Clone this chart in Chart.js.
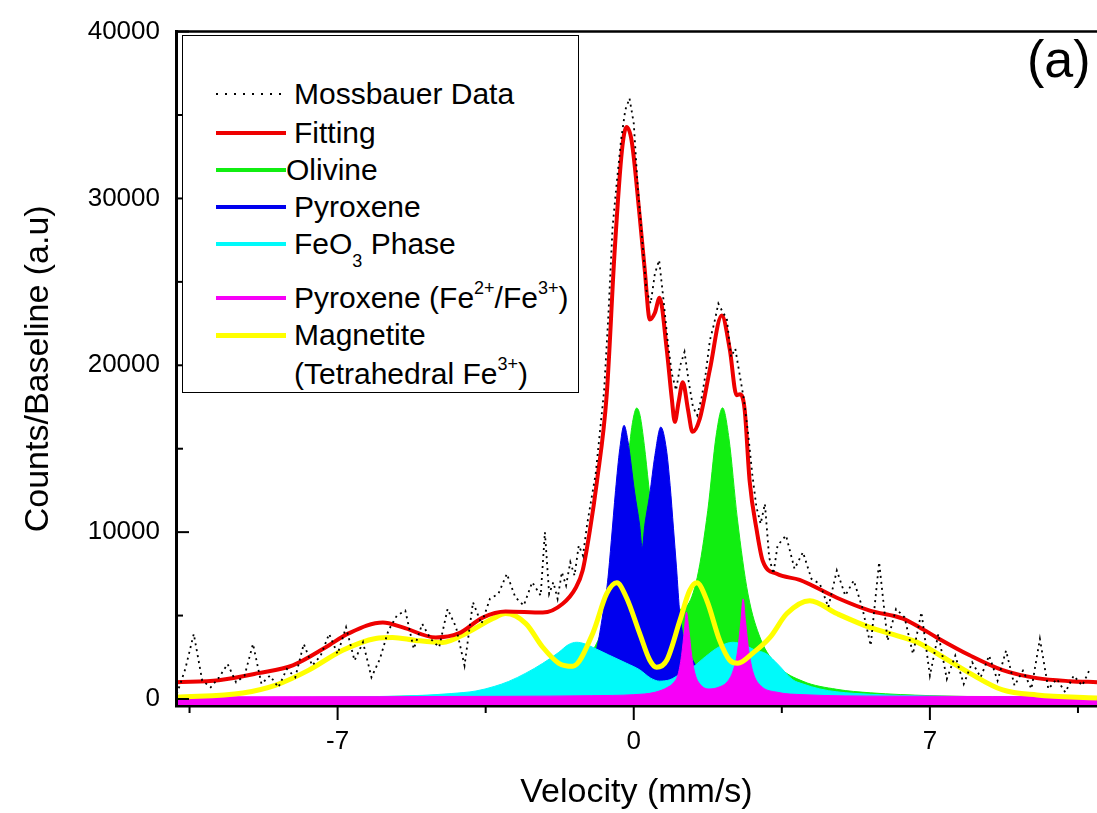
<!DOCTYPE html>
<html>
<head>
<meta charset="utf-8">
<script src="https://cdn.jsdelivr.net/npm/chart.js@4.4.1/dist/chart.umd.min.js"></script>
<style>
body { margin: 0; background: #fff; }
#wrap { position: relative; width: 1097px; height: 813px; font-family: "Liberation Sans", Arial, sans-serif; color: #000; }
#legend { position: absolute; left: 182px; top: 35px; width: 397px; height: 358px; border: 1.5px solid #000; box-sizing: border-box; background: #fff; }
.item { position: absolute; left: 0; width: 100%; height: 0; }
.swatch { position: absolute; left: 33px; width: 70px; height: 4px; top: -2px; }
.swatch.dots { height: 2px; top: -1px; width: 66px; background: repeating-linear-gradient(to right, #000 0 2px, transparent 2px 9px); }
.name { position: absolute; left: 111px; top: -18px; font-size: 30px; line-height: 36px; white-space: nowrap; }
.name sup { font-size: 18px; line-height: 0; vertical-align: 14px; }
.name sub { font-size: 18px; line-height: 0; vertical-align: -13px; }
#tag { position: absolute; left: 1027px; top: 29px; font-size: 52px; line-height: 60px; }
</style>
</head>
<body>
<div id="wrap">
  <canvas id="chart" width="1097" height="813"></canvas>
  <div id="legend"></div>
  <div id="tag">(a)</div>
</div>
<script>
// axis ticks
var xMajorTicks = [-7, 0, 7];
var xMinorTicks = [-10.5, -3.5, 3.5, 10.5];
var yMajorTicks = [0, 10000, 20000, 30000, 40000];
var yMinorTicks = [5000, 15000, 25000, 35000];

// Mossbauer data (velocity mm/s, counts)
var dataX = [-10.8, -10.6, -10.4, -10.2, -10.0, -9.8, -9.6, -9.4, -9.2, -9.0, -8.8, -8.6, -8.4, -8.2, -8.0,
    -7.8, -7.6, -7.4, -7.2, -7.0, -6.8, -6.6, -6.4, -6.2, -6.0, -5.8, -5.6, -5.4, -5.2, -5.0,
    -4.8, -4.6, -4.4, -4.2, -4.0, -3.8, -3.6, -3.4, -3.2, -3.0, -2.8, -2.6, -2.4, -2.2, -2.1,
    -2.0, -1.9, -1.8, -1.7, -1.6, -1.5, -1.4, -1.3, -1.2, -1.1, -1.0, -0.9, -0.8, -0.7, -0.6,
    -0.5, -0.4, -0.3, -0.2, -0.1, 0.0, 0.1, 0.2, 0.3, 0.4, 0.5, 0.6, 0.7, 0.8, 0.9,
    1.0, 1.1, 1.2, 1.3, 1.4, 1.5, 1.6, 1.7, 1.8, 1.9, 2.0, 2.1, 2.2, 2.3, 2.4,
    2.5, 2.6, 2.7, 2.8, 2.9, 3.0, 3.1, 3.2, 3.3, 3.4, 3.6, 3.8, 4.0, 4.2, 4.4,
    4.6, 4.8, 5.0, 5.2, 5.4, 5.6, 5.8, 6.0, 6.2, 6.4, 6.6, 6.8, 7.0, 7.2, 7.4,
    7.6, 7.8, 8.0, 8.2, 8.4, 8.6, 8.8, 9.0, 9.2, 9.4, 9.6, 9.8, 10.0, 10.2, 10.4, 10.6, 10.8];
var dataY = [300, 1800, 3900, 1100, 700, 1300, 2100, 1000, 1400, 3300, 900, 1400, 700, 1800, 1300,
    3300, 2000, 2600, 3900, 2700, 4300, 2300, 3400, 1300, 2400, 4100, 5000, 5300, 3000, 4500,
    3600, 3100, 5400, 4300, 2000, 5800, 4500, 6000, 6300, 7500, 6100, 5600, 7000, 6200, 10000,
    6300, 7000, 6000, 7600, 6800, 8200, 7400, 9200, 8600, 10500, 12000, 13500, 16000, 18500, 23000,
    28300, 31000, 33500, 35300, 36000, 34500, 30500, 27500, 24500, 23700, 25500, 26300, 24000, 21500, 19500,
    18500, 20000, 20800, 19000, 17500, 17000, 18000, 19500, 21500, 22500, 23700, 23200, 22800, 20500, 21000,
    19500, 18000, 16000, 13500, 11500, 10500, 11700, 8500, 7500, 9200, 9800, 7800, 8800, 7200, 6900,
    5500, 7700, 6200, 7100, 5500, 3200, 8200, 3500, 5400, 4900, 2700, 5200, 1400, 3900, 1200,
    2600, 900, 2200, 1300, 2600, 1100, 2900, 800, 1700, 600, 3600, 600, 1200, 400, 1400, 800, 1900];

// Fitting
var fitX = [-10.82, -9.81, -8.87, -8.06, -7.28, -6.74, -5.93, -5.46, -4.68, -4.14, -3.57, -3.03, -2.15, -1.68,
    -1.37, -1.21, -1.04, -0.87, -0.64, -0.45, -0.28, -0.17, -0.05, 0.14, 0.26, 0.38, 0.5, 0.61, 0.78, 0.9,
    0.97, 1.06, 1.16, 1.28, 1.39, 1.56, 1.8, 2.08, 2.27, 2.43, 2.51, 2.62, 2.74, 2.91, 3.05, 3.38, 3.92,
    4.8, 5.58, 6.36, 6.76, 7.16, 7.94, 8.72, 9.53, 10.31, 10.95];
var fitY = [1010, 1130, 1550, 2020, 3100, 3930, 4580, 4290, 3690, 3930, 4880, 5240, 5180, 5710,
    6670, 7680, 10060, 13040, 18210, 26900, 32860, 34280, 33450, 28930, 25710, 22740, 23150, 24050, 20950, 17980,
    16610, 17800, 18990, 17380, 16010, 16790, 19760, 22980, 20950, 18210, 18270, 17380, 13040, 10060, 8270, 7500, 7140,
    6070, 5300, 4820, 4290, 3690, 2620, 1730, 1250, 1070, 1010];

// Olivine
var olivineX = [-10.82, -8, -6, -4, -3, -2, -1.5, -1, -0.6, -0.3, -0.2, -0.1, -0.03, 0.07, 0.15, 0.25, 0.35,
    0.42, 0.5, 0.6, 0.75, 1.0, 1.25, 1.5, 1.75, 1.95, 2.1, 2.25, 2.45, 2.7, 3.0, 3.4, 4.0, 4.8, 5.6, 7, 9, 10.95];
var olivineY = [50, 80, 140, 280, 460, 910, 1460, 2750, 5460, 10320, 12720, 15170, 16560, 17440, 16980, 15200, 12880,
    11300, 9720, 8140, 6530, 5360, 5570, 7280, 11300, 15830, 17450, 15620, 10780, 6290, 3590, 2000, 1060, 580, 370, 200, 110, 70];

// Pyroxene
var pyroxeneX = [-10.82, -6, -4, -3, -2, -1.5, -1.2, -1.0, -0.87, -0.73, -0.62, -0.53, -0.43, -0.33, -0.23, -0.14,
    0.02, 0.14, 0.2, 0.26, 0.38, 0.5, 0.64, 0.77, 0.86, 0.94, 1.01, 1.09, 1.25, 1.4, 1.55, 1.8, 2.2, 3, 4, 6, 10.95];
var pyroxeneY = [60, 100, 180, 300, 600, 1000, 1600, 2300, 3100, 5100, 7000, 9500, 12500, 15000, 16400, 15500,
    12400, 10400, 9050, 10400, 12300, 14600, 16300, 15000, 12800, 10200, 7900, 5100, 3100, 2300, 1700, 1100, 650, 350, 200, 100, 50];

// FeO3 phase
var feo3X = [-10.82, -8, -6, -5, -4.3, -3.73, -3.3, -2.96, -2.55, -2.15, -1.77, -1.55, -1.35, -1.15, -0.97, -0.6,
    -0.17, 0.14, 0.4, 0.61, 0.85, 1.1, 1.39, 1.7, 2.0, 2.34, 2.6, 2.85, 3.14, 3.4, 3.76, 4.0, 4.4, 4.8, 5.6, 7, 9, 10.95];
var feo3Y = [60, 100, 150, 220, 330, 480, 750, 1050, 1550, 2140, 2800, 3250, 3400, 3300, 3100, 2650,
    2140, 1750, 1250, 1070, 1150, 1500, 1900, 2550, 3100, 3400, 3250, 2950, 2700, 2100, 1150, 900, 600, 430, 280, 170, 100, 70];

// Pyroxene (Fe2+/Fe3+)
var pyro23X = [-10.82, -6, -3, -1, 0, 0.5, 0.8, 0.95, 1.05, 1.13, 1.2, 1.245, 1.3, 1.37, 1.45, 1.6, 1.8, 2.0,
    2.2, 2.35, 2.45, 2.53, 2.585, 2.64, 2.72, 2.82, 3.0, 3.4, 4.0, 6.0, 10.95];
var pyro23Y = [130, 140, 160, 200, 260, 400, 700, 1000, 1500, 2600, 4200, 5200, 4200, 2600, 1500, 800, 600, 700,
    1000, 1700, 2800, 4600, 6000, 4700, 2900, 1600, 800, 400, 260, 170, 140];

// Magnetite
var magnetiteX = [-10.82, -9.24, -8.46, -7.68, -6.88, -6.1, -5.7, -5.15, -4.52, -3.97, -3.33, -3.03, -2.55, -2.15,
    -1.77, -1.44, -0.97, -0.64, -0.4, -0.17, 0.14, 0.38, 0.54, 0.78, 1.09, 1.32, 1.49, 1.73, 2.03, 2.27, 2.46,
    2.81, 3.22, 3.62, 4.16, 4.8, 5.58, 6.36, 6.76, 7.16, 7.94, 8.72, 9.53, 10.95];
var magnetiteY = [100, 360, 830, 1730, 2920, 3630, 3690, 3510, 3390, 3930, 4820, 5120, 4520, 3100,
    2140, 1960, 3930, 6310, 6960, 6070, 3930, 2320, 1900, 2320, 4700, 6490, 6960, 5890, 3510, 2320, 2140,
    2740, 3690, 5120, 5890, 5120, 4290, 3690, 3330, 2740, 1550, 540, 240, 60];

var FONT = '"Liberation Sans", Arial, sans-serif';

function toPoints(xs, ys) {
    return xs.map((x, i) => ({ x: x, y: ys[i] }));
}

function areaSet(label, xs, ys, color, order) {
    return {
        label: label,
        data: toPoints(xs, ys),
        borderColor: color,
        backgroundColor: color,
        borderWidth: 1,
        fill: 'start',
        pointRadius: 0,
        cubicInterpolationMode: 'monotone',
        order: order
    };
}

var datasets = [
    {
        label: 'Mossbauer Data', data: toPoints(dataX, dataY),
        borderColor: '#000', borderWidth: 1.8, borderDash: [2, 4],
        pointRadius: 0, tension: 0, fill: false, order: 0
    },
    {
        label: 'Fitting', data: toPoints(fitX, fitY),
        borderColor: '#ee0000', borderWidth: 4, pointRadius: 0,
        cubicInterpolationMode: 'monotone', fill: false, order: 1
    },
    areaSet('Olivine', olivineX, olivineY, '#11ee11', 6),
    areaSet('Pyroxene', pyroxeneX, pyroxeneY, '#0000ee', 5),
    areaSet('FeO3 Phase', feo3X, feo3Y, '#00fafa', 4),
    areaSet('Pyroxene (Fe2+/Fe3+)', pyro23X, pyro23Y, '#f700f7', 3),
    {
        label: 'Magnetite (Tetrahedral Fe3+)', data: toPoints(magnetiteX, magnetiteY),
        borderColor: '#ffff00', borderWidth: 5, pointRadius: 0,
        cubicInterpolationMode: 'monotone', fill: false, order: 2
    }
];

// frame line on top + inner y ticks + outer x ticks
var frameTicks = {
    id: 'frameTicks',
    afterDraw: function (chart) {
        var ctx = chart.ctx, a = chart.chartArea, x = chart.scales.x, y = chart.scales.y;
        ctx.save();
        ctx.strokeStyle = '#000';
        ctx.lineWidth = 2.5;
        ctx.beginPath();
        ctx.moveTo(a.left - 1, a.top);
        ctx.lineTo(a.right, a.top);
        ctx.stroke();
        ctx.lineWidth = 2;
        function tick(x1, y1, x2, y2) {
            ctx.beginPath(); ctx.moveTo(x1, y1); ctx.lineTo(x2, y2); ctx.stroke();
        }
        yMajorTicks.forEach(v => { var p = y.getPixelForValue(v); tick(a.left, p, a.left + 13, p); });
        yMinorTicks.forEach(v => { var p = y.getPixelForValue(v); tick(a.left, p, a.left + 7, p); });
        xMajorTicks.forEach(v => { var p = x.getPixelForValue(v); tick(p, a.bottom, p, a.bottom + 14); });
        xMinorTicks.forEach(v => { var p = x.getPixelForValue(v); tick(p, a.bottom, p, a.bottom + 7); });
        ctx.restore();
    }
};

new Chart(document.getElementById('chart'), {
    type: 'line',
    data: { datasets: datasets },
    plugins: [frameTicks],
    options: {
        responsive: false,
        animation: false,
        devicePixelRatio: 1,
        layout: { padding: { left: 0, right: 0, top: 27, bottom: 0 } },
        plugins: { legend: { display: false }, tooltip: { enabled: false } },
        scales: {
            x: {
                type: 'linear', min: -10.82, max: 10.95,
                grid: { display: false, drawTicks: false },
                border: { display: true, color: '#000', width: 2.5, z: 1 },
                ticks: {
                    color: '#000', padding: 20, maxRotation: 0, autoSkip: false,
                    font: { family: FONT, size: 26 },
                    callback: v => String(v)
                },
                afterBuildTicks: s => { s.ticks = xMajorTicks.map(v => ({ value: v })); },
                afterFit: s => { s.height = 107; },
                title: {
                    display: true, text: 'Velocity (mm/s)', color: '#000',
                    font: { family: FONT, size: 34 }, padding: { top: 0, bottom: 0 }
                }
            },
            y: {
                type: 'linear', min: -420, max: 40000,
                grid: { display: false, drawTicks: false },
                border: { display: true, color: '#000', width: 3, z: 1 },
                ticks: {
                    color: '#000', padding: 16,
                    font: { family: FONT, size: 26 },
                    callback: v => String(v)
                },
                afterBuildTicks: s => { s.ticks = yMajorTicks.map(v => ({ value: v })); },
                afterFit: s => { s.width = 176; },
                title: {
                    display: true, text: 'Counts/Baseline (a.u)', color: '#000',
                    font: { family: FONT, size: 34 }, padding: { top: 18, bottom: 0 }
                }
            }
        }
    }
});

// legend (html, for sub/superscripts)
var legendRows = [
    { top: 58, swatch: 'dots', color: '#000', html: 'Mossbauer Data' },
    { top: 97, color: '#ee0000', html: 'Fitting' },
    { top: 134, color: '#11ee11', html: 'Olivine', left: 103 },
    { top: 171, color: '#0000ee', html: 'Pyroxene' },
    { top: 208, color: '#00fafa', html: 'FeO<sub>3</sub> Phase' },
    { top: 262, color: '#f700f7', html: 'Pyroxene (Fe<sup>2+</sup>/Fe<sup>3+</sup>)' },
    { top: 299, color: '#ffff00', html: 'Magnetite', thick: true },
    { top: 338, html: '(Tetrahedral Fe<sup>3+</sup>)' }
];
var legend = document.getElementById('legend');
legendRows.forEach(r => {
    var item = document.createElement('div');
    item.className = 'item';
    item.style.top = r.top + 'px';
    if (r.color) {
        var sw = document.createElement('div');
        sw.className = 'swatch' + (r.swatch ? ' ' + r.swatch : '');
        if (!r.swatch) sw.style.background = r.color;
        if (r.thick) { sw.style.height = '5px'; sw.style.top = '-2.5px'; }
        item.appendChild(sw);
    }
    var name = document.createElement('div');
    name.className = 'name';
    name.innerHTML = r.html;
    if (r.left) name.style.left = r.left + 'px';
    item.appendChild(name);
    legend.appendChild(item);
});
</script>
</body>
</html>
